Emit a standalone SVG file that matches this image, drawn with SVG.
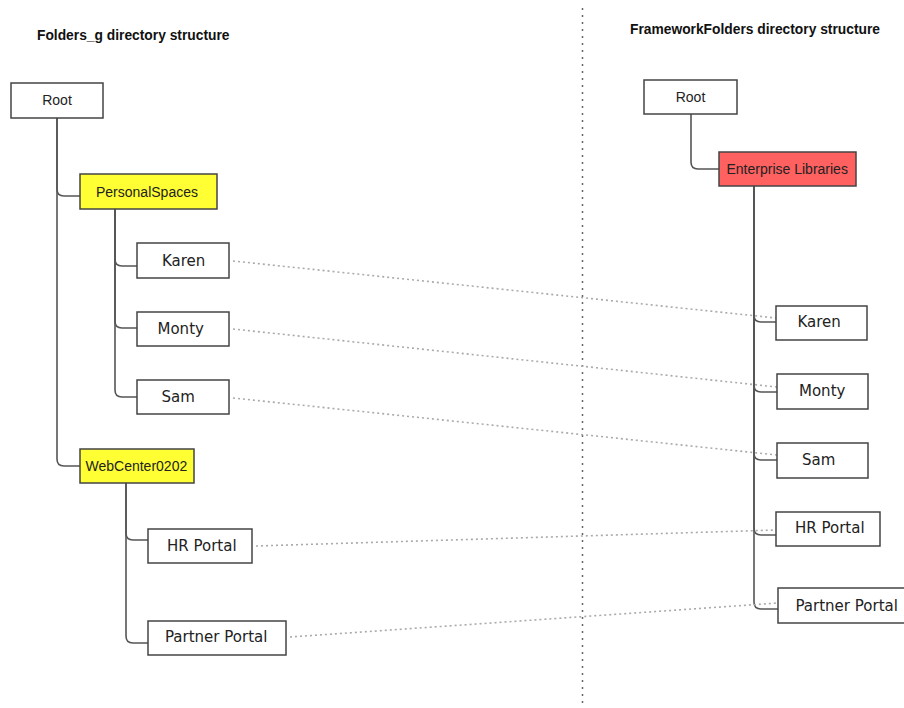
<svg xmlns="http://www.w3.org/2000/svg" width="904" height="708" viewBox="0 0 904 708">
<style>
.bg{fill:#ffffff}
.box{fill:#ffffff;stroke:#444444;stroke-width:1.5}
.yel{fill:#ffff33}
.red{fill:#ff6060}
.tree{fill:none;stroke:#555555;stroke-width:1.6}
.dot{fill:none;stroke:#aaaaaa;stroke-width:1.6;stroke-dasharray:2 3}
.div{fill:none;stroke:#666666;stroke-width:1.5;stroke-dasharray:2 5}
.title{font-family:"Liberation Sans",Arial,sans-serif;font-size:13.8px;font-weight:bold;fill:#111111}
.sans{font-family:"Liberation Sans",Arial,sans-serif;font-size:14px;fill:#222222}
.ver{font-family:"DejaVu Sans",Verdana,sans-serif;font-size:15px;fill:#222222}
</style>
<rect class="bg" x="0" y="0" width="904" height="708"/>
<line class="div" x1="582.5" y1="8" x2="582.5" y2="708"/>
<text class="title" x="37" y="39.5">Folders_g directory structure</text>
<text class="title" x="630" y="33.5">FrameworkFolders directory structure</text>
<g id="connectors">
<path class="tree" d="M57,118 V189 Q57,196 64,196 H80"/>
<path class="tree" d="M57,118 V459 Q57,466 64,466 H80"/>
<path class="tree" d="M115,209 V259 Q115,266 122,266 H137"/>
<path class="tree" d="M115,209 V321 Q115,328 122,328 H137"/>
<path class="tree" d="M115,209 V390 Q115,397 122,397 H137"/>
<path class="tree" d="M126,483 V533 Q126,540 133,540 H148"/>
<path class="tree" d="M126,483 V636 Q126,643 133,643 H148"/>
<path class="tree" d="M691,114 V162 Q691,169 698,169 H719"/>
<path class="tree" d="M754,186 V315 Q754,322 761,322 H776"/>
<path class="tree" d="M754,186 V385 Q754,392 761,392 H777"/>
<path class="tree" d="M754,186 V453 Q754,460 761,460 H777"/>
<path class="tree" d="M754,186 V528 Q754,535 761,535 H776"/>
<path class="tree" d="M754,186 V602 Q754,609 761,609 H778"/>
<line class="dot" x1="233" y1="261" x2="776" y2="318"/>
<line class="dot" x1="233" y1="329" x2="777" y2="387"/>
<line class="dot" x1="233" y1="398" x2="777" y2="455"/>
<line class="dot" x1="256" y1="546" x2="776" y2="530"/>
<line class="dot" x1="290" y1="637" x2="778" y2="603"/>
</g>
<g id="root-left"><rect class="box" x="11" y="83" width="92" height="35"/><text class="sans" x="57" y="105" text-anchor="middle">Root</text></g>
<g id="personalspaces"><rect class="box yel" x="80" y="174" width="137" height="35"/><text class="sans" x="96" y="196.5">PersonalSpaces</text></g>
<g id="karen-left"><rect class="box" x="137" y="243" width="92" height="35"/><text class="ver" x="162" y="265.5">Karen</text></g>
<g id="monty-left"><rect class="box" x="137" y="312" width="92" height="34"/><text class="ver" x="157.5" y="334">Monty</text></g>
<g id="sam-left"><rect class="box" x="137" y="380" width="92" height="34"/><text class="ver" x="161.5" y="402">Sam</text></g>
<g id="webcenter"><rect class="box yel" x="80" y="449" width="114" height="34"/><text class="sans" x="85.5" y="470.5">WebCenter0202</text></g>
<g id="hrportal-left"><rect class="box" x="148" y="529" width="104" height="34"/><text class="ver" x="167" y="550.5">HR Portal</text></g>
<g id="partnerportal-left"><rect class="box" x="148" y="621" width="138" height="34"/><text class="ver" x="165" y="642">Partner Portal</text></g>
<g id="root-right"><rect class="box" x="644" y="80" width="93" height="34"/><text class="sans" x="690.5" y="101.5" text-anchor="middle">Root</text></g>
<g id="enterprise"><rect class="box red" x="719" y="152" width="137" height="34"/><text class="sans" x="726.5" y="173.5">Enterprise Libraries</text></g>
<g id="karen-right"><rect class="box" x="776" y="306" width="91" height="34"/><text class="ver" x="797.5" y="327">Karen</text></g>
<g id="monty-right"><rect class="box" x="777" y="374" width="91" height="35"/><text class="ver" x="799" y="395.5">Monty</text></g>
<g id="sam-right"><rect class="box" x="777" y="443" width="91" height="35"/><text class="ver" x="802" y="465">Sam</text></g>
<g id="hrportal-right"><rect class="box" x="776" y="512" width="104" height="34"/><text class="ver" x="795" y="533">HR Portal</text></g>
<g id="partnerportal-right"><rect class="box" x="778" y="588" width="135" height="35"/><text class="ver" x="795.5" y="610.5">Partner Portal</text></g>
</svg>
